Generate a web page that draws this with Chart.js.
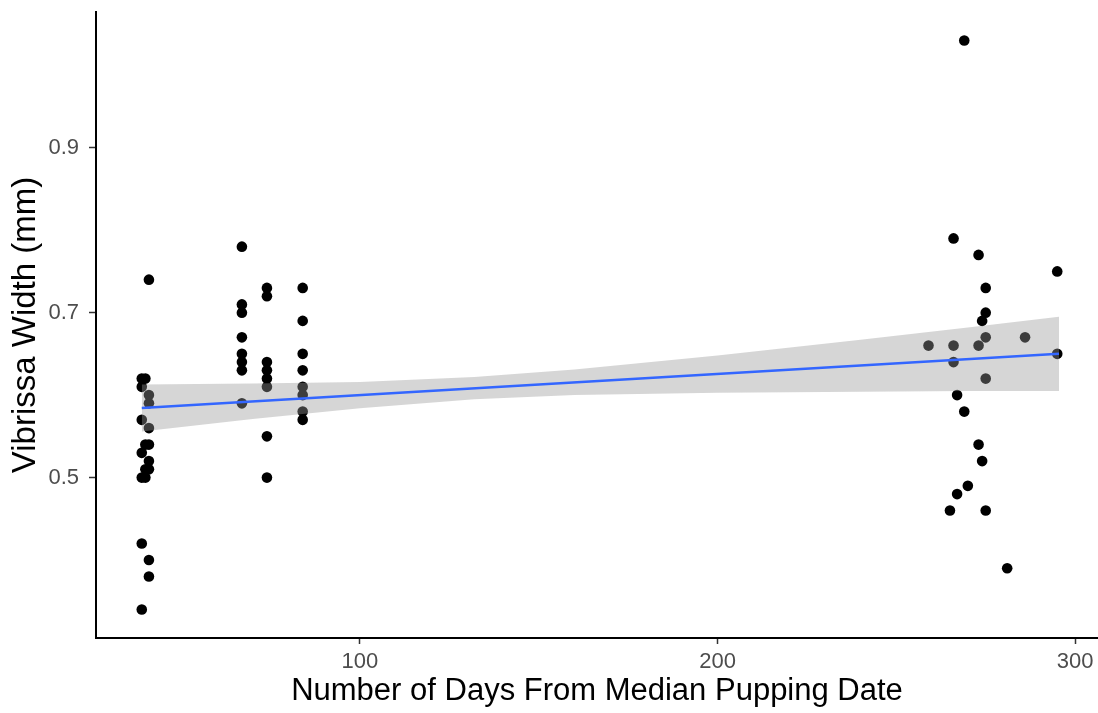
<!DOCTYPE html>
<html>
<head>
<meta charset="utf-8">
<script src="https://cdn.jsdelivr.net/npm/chart.js@4.4.1/dist/chart.umd.min.js"></script>
<style>
  html, body { margin: 0; padding: 0; background: #ffffff; }
  #c { display: block; }
</style>
</head>
<body>
<canvas id="c" width="1098" height="713"></canvas>
<script>
// Observations: days from median pupping date and vibrissa width (mm)
const days = [
  41, 39, 40, 39, 41, 41, 39, 41, 40, 41, 39, 41, 40, 41, 39, 40, 39, 41, 41, 39,
  67, 67, 67, 67, 67, 67, 67, 67,
  74, 74, 74, 74, 74, 74, 74, 74,
  84, 84, 84, 84, 84, 84, 84, 84,
  269, 266, 273, 295, 275, 275, 274, 275, 286, 259, 266, 273, 295, 266, 275, 267,
  269, 273, 274, 270, 267, 265, 275, 281
];
const widths = [
  0.74, 0.62, 0.62, 0.61, 0.60, 0.59, 0.57, 0.56, 0.54, 0.54, 0.53, 0.52, 0.51, 0.51, 0.50, 0.50, 0.42, 0.40, 0.38, 0.34,
  0.78, 0.71, 0.70, 0.67, 0.65, 0.64, 0.63, 0.59,
  0.73, 0.72, 0.64, 0.63, 0.62, 0.61, 0.55, 0.50,
  0.73, 0.69, 0.65, 0.63, 0.61, 0.60, 0.58, 0.57,
  1.03, 0.79, 0.77, 0.75, 0.73, 0.70, 0.69, 0.67, 0.67, 0.66, 0.66, 0.66, 0.65, 0.64, 0.62, 0.60,
  0.58, 0.54, 0.52, 0.49, 0.48, 0.46, 0.46, 0.39
];

// Linear fit and its confidence band
const fitDays  = [39, 295.5];
const fitWidth = [0.5845, 0.650];
const bandDays  = [39, 70, 100, 132, 160, 200, 240, 270, 295.5];
const bandLower = [0.556, 0.571, 0.584, 0.595, 0.600, 0.603, 0.604, 0.605, 0.605];
const bandUpper = [0.613, 0.614, 0.616, 0.622, 0.631, 0.648, 0.667, 0.682, 0.695];

// Axis ticks
const xTicks = [100, 200, 300];
const yTicks = [0.5, 0.7, 0.9];

const toXY = (xs, ys) => xs.map((x, i) => ({ x: x, y: ys[i] }));

const tickFont = { family: 'Liberation Sans', size: 22 };

new Chart(document.getElementById('c'), {
  type: 'scatter',
  data: {
    datasets: [
      {
        label: 'fit',
        type: 'line',
        data: toXY(fitDays, fitWidth),
        borderColor: '#3366FF',
        borderWidth: 2.5,
        pointRadius: 0,
        fill: false,
        order: 0
      },
      {
        label: 'upper',
        type: 'line',
        data: toXY(bandDays, bandUpper),
        borderColor: 'rgba(0,0,0,0)',
        borderWidth: 0,
        pointRadius: 0,
        backgroundColor: 'rgba(153,153,153,0.4)',
        fill: '+1',
        order: 1
      },
      {
        label: 'lower',
        type: 'line',
        data: toXY(bandDays, bandLower),
        borderColor: 'rgba(0,0,0,0)',
        borderWidth: 0,
        pointRadius: 0,
        fill: false,
        order: 2
      },
      {
        label: 'obs',
        data: toXY(days, widths),
        backgroundColor: '#000000',
        borderWidth: 0,
        pointRadius: 5.3,
        order: 3
      }
    ]
  },
  options: {
    responsive: false,
    animation: false,
    devicePixelRatio: 1,
    layout: { autoPadding: false, padding: { top: 12, right: 0, left: 0, bottom: 0 } },
    plugins: { legend: { display: false }, tooltip: { enabled: false } },
    scales: {
      x: {
        type: 'linear',
        min: 26.2,
        max: 306.4,
        afterBuildTicks: (s) => { s.ticks = xTicks.map(v => ({ value: v })); },
        afterFit: (s) => { s.height = 75; s.paddingLeft = 0; s.paddingRight = 0; },
        grid: { drawOnChartArea: false, drawTicks: true, tickLength: 6, tickColor: '#333333', tickWidth: 1.5 },
        border: { display: true, color: '#000000', width: 2 },
        ticks: { color: '#4D4D4D', font: tickFont, padding: 5, maxRotation: 0, autoSkip: false },
        title: {
          display: true,
          text: 'Number of Days From Median Pupping Date',
          color: '#000000',
          font: { family: 'Liberation Sans', size: 31 },
          padding: { top: 0, bottom: 3 }
        }
      },
      y: {
        type: 'linear',
        min: 0.3055,
        max: 1.0645,
        afterBuildTicks: (s) => { s.ticks = yTicks.map(v => ({ value: v })); },
        afterFit: (s) => { s.width = 96; s.paddingTop = 0; s.paddingBottom = 0; },
        grid: { drawOnChartArea: false, drawTicks: true, tickLength: 7, tickColor: '#333333', tickWidth: 1.5 },
        border: { display: true, color: '#000000', width: 2 },
        ticks: {
          color: '#4D4D4D',
          font: tickFont,
          padding: 10,
          callback: (v) => Number(v).toFixed(1)
        },
        title: {
          display: true,
          text: 'Vibrissa Width (mm)',
          color: '#000000',
          font: { family: 'Liberation Sans', size: 33 },
          padding: { top: 6, bottom: 6 }
        }
      }
    }
  }
});
</script>
</body>
</html>
